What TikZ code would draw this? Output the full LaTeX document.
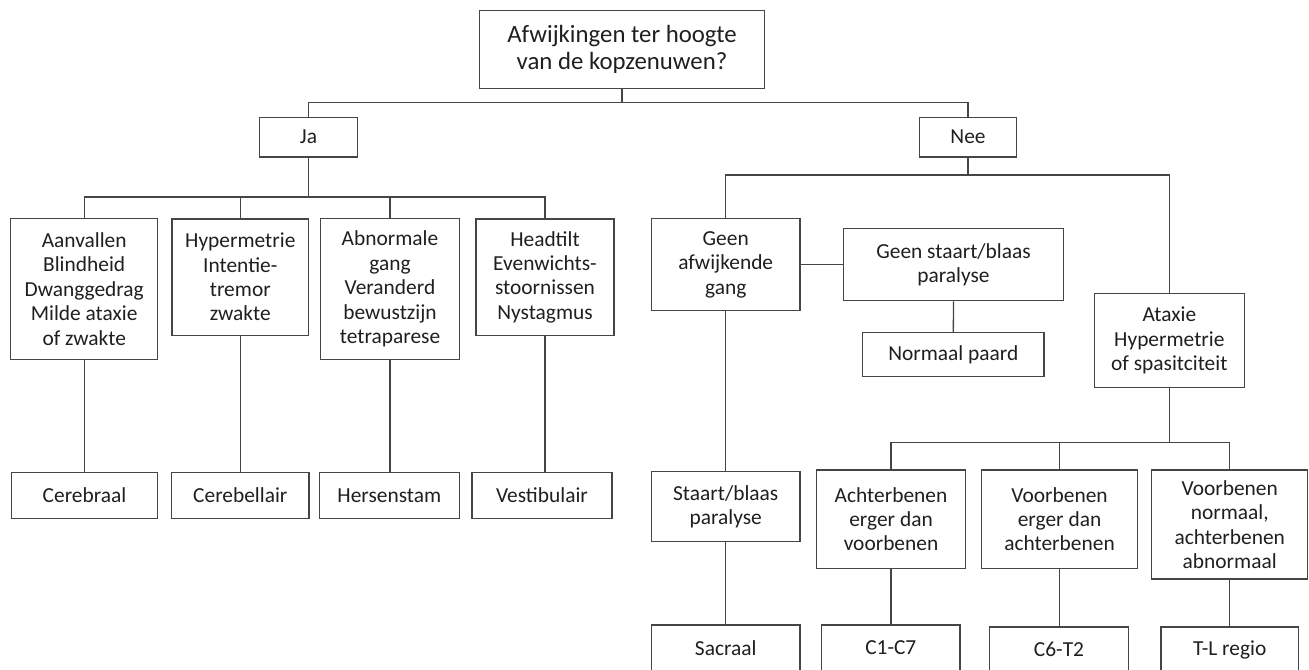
\documentclass[tikz,border=0pt]{standalone}
\usepackage{fontspec}
\setmainfont{Carlito}
\definecolor{linegray}{HTML}{454545}
\begin{document}
\begin{tikzpicture}[x=0.5pt,y=-0.5pt,
  box/.style={draw=linegray,line width=0.65pt,align=center,inner sep=0pt,text=black!88,
    font=\fontsize{10.7}{12.2}\selectfont},
  wire/.style={draw=linegray,line width=0.65pt}]
\useasboundingbox (0,0) rectangle (1309,669);
\node[box,font=\fontsize{12.4}{13.2}\selectfont,minimum width=142.3pt,minimum height=38.8pt] (top) at (622,49.5) {Afwijkingen ter hoogte\\van de kopzenuwen?};
\node[box,minimum width=48.8pt,minimum height=19.9pt] (ja) at (308.5,137.2) {Ja};
\node[box,minimum width=48.7pt,minimum height=19.9pt] (nee) at (968,137.2) {Nee};
\node[box,minimum width=73.5pt,minimum height=70.2pt] (b1) at (84.2,289) {Aanvallen\\Blindheid\\Dwanggedrag\\Milde ataxie\\of zwakte};
\node[box,minimum width=68.4pt,minimum height=58.2pt] (b2) at (240.3,277.1) {Hypermetrie\\Intentie-\\tremor\\zwakte};
\node[box,minimum width=69.3pt,minimum height=70.2pt] (b3) at (390,289) {Abnormale\\gang\\Veranderd\\bewustzijn\\tetraparese};
\node[box,minimum width=69pt,minimum height=58.2pt] (b4) at (545,277.1) {Headtilt\\Evenwichts-\\stoornissen\\Nystagmus};
\node[box,minimum width=73.2pt,minimum height=22.8pt] (cerebraal) at (84.5,495.5) {Cerebraal};
\node[box,minimum width=68.7pt,minimum height=22.8pt] (cerebellair) at (240.3,495.5) {Cerebellair};
\node[box,minimum width=70pt,minimum height=22.8pt] (hersenstam) at (389.3,495.5) {Hersenstam};
\node[box,minimum width=70pt,minimum height=22.8pt] (vestibulair) at (542,495.5) {Vestibulair};
\node[box,minimum width=74.3pt,minimum height=45.9pt] (ga) at (725.7,264.7) {Geen\\afwijkende\\gang};
\node[box,minimum width=109.8pt,minimum height=36pt] (gs) at (953.5,264.7) {Geen staart/blaas\\paralyse};
\node[box,minimum width=90.7pt,minimum height=22pt] (np) at (953.3,354.7) {Normaal paard};
\node[box,minimum width=75pt,minimum height=47pt] (ataxie) at (1169.3,340.4) {Ataxie\\Hypermetrie\\of spasitciteit};
\node[box,minimum width=74.3pt,minimum height=35.2pt] (sb) at (725.7,506.6) {Staart/blaas\\paralyse};
\node[box,minimum width=74.7pt,minimum height=49.1pt] (ac) at (891,519.2) {Achterbenen\\erger dan\\voorbenen};
\node[box,minimum width=78.2pt,minimum height=49.1pt] (ve) at (1059.5,519.2) {Voorbenen\\erger dan\\achterbenen};
\node[box,minimum width=78pt,minimum height=54.4pt] (vn) at (1229.7,524.5) {Voorbenen\\normaal,\\achterbenen\\abnormaal};
\node[box,minimum width=74.3pt,minimum height=22.8pt] (sacraal) at (725.7,647.8) {Sacraal};
\node[box,minimum width=69.2pt,minimum height=22.8pt] (c1c7) at (890.8,647.8) {C1-C7};
\node[box,minimum width=69.3pt,minimum height=22.8pt] (c6t2) at (1059,649.8) {C6-T2};
\node[box,minimum width=68.7pt,minimum height=22.8pt] (tl) at (1229.7,649.8) {T-L regio};
\coordinate (topBus) at (622,102.4);
\coordinate (jaBus) at (308.5,197.1);
\coordinate (neeBus) at (968,175);
\coordinate (ataxBus) at (1169.3,442.8);
\draw[wire] (top.south) -- (topBus);
\draw[wire] (ja.north) |- (topBus) -| (nee.north);
\draw[wire] (ja.south) -- (jaBus);
\draw[wire] (b1.north) |- (jaBus) -| (b4.north);
\foreach \n in {b2,b3} \draw[wire] (\n.north) -- (\n.north |- jaBus);
\foreach \a/\b in {b1/cerebraal,b2/cerebellair,b3/hersenstam,b4/vestibulair}
  \draw[wire] (\a.south) -- (\a.south |- \b.north);
\draw[wire] (nee.south) -- (neeBus);
\draw[wire] (ga.north) |- (neeBus) -| (ataxie.north);
\draw[wire] (ga.east) -- (gs.west);
\draw[wire] (gs.south) -- (np.north);
\draw[wire] (ga.south) -- (sb.north);
\draw[wire] (sb.south) -- (sacraal.north);
\draw[wire] (ataxie.south) -- (ataxBus);
\draw[wire] (ac.north) |- (ataxBus) -| (vn.north);
\draw[wire] (ve.north) -- (ve.north |- ataxBus);
\foreach \a/\b in {ac/c1c7,ve/c6t2,vn/tl}
  \draw[wire] (\a.south) -- (\a.south |- \b.north);
\end{tikzpicture}
\end{document}
